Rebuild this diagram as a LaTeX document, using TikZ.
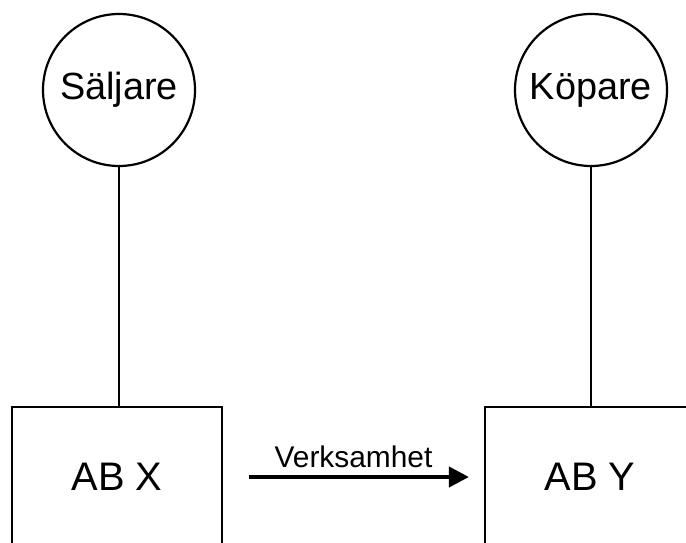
\documentclass[tikz,border=0pt]{standalone}
\usepackage{fontspec}
\setmainfont{Liberation Sans}
\usetikzlibrary{arrows.meta}
\begin{document}
\begin{tikzpicture}[x=1bp,y=-1bp,
  party/.style={circle,draw,line width=2.2bp,minimum size=152bp,inner sep=0pt,font=\fontsize{38}{40}\selectfont},
  company/.style={rectangle,draw,line width=2.2bp,minimum width=210bp,minimum height=140bp,inner sep=0pt,font=\fontsize{40}{42}\selectfont},
  link/.style={line width=2.2bp},
  flow/.style={line width=4bp,-{Triangle[length=20bp,width=20bp]}}]
  \path[use as bounding box,clip] (0,0) rectangle (686,543);
  \fill[white] (0,0) rectangle (686,543);
  % owners
  \node[party] (seller) at (119,90) {Säljare};
  \node[party] (buyer) at (591,90) {Köpare};
  % companies
  \node[company] (abx) at (117,477) {AB X};
  \node[company] (aby) at (590,477) {AB Y};
  % ownership lines
  \draw[link] (seller.south) -- (seller.south |- abx.north);
  \draw[link] (buyer.south) -- (buyer.south |- aby.north);
  % transfer of business
  \draw[flow,shorten <=26bp,shorten >=15bp] (abx.east) -- node[above=4bp,font=\fontsize{30}{32}\selectfont] {Verksamhet} (aby.west);
\end{tikzpicture}
\end{document}
